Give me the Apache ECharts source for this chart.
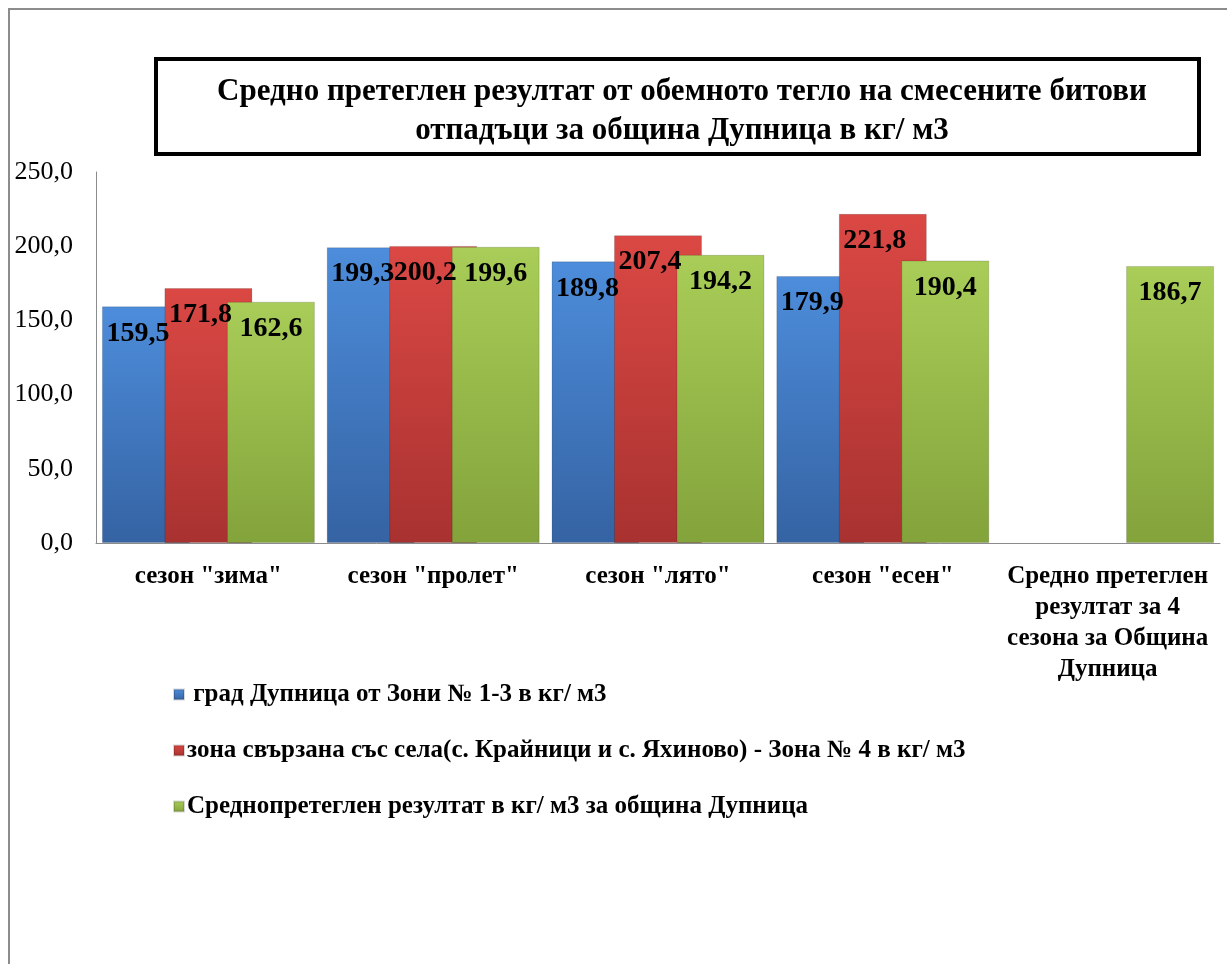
<!DOCTYPE html>
<html>
<head>
<meta charset="utf-8">
<script src="https://cdn.jsdelivr.net/npm/echarts@6/dist/echarts.min.js"></script>
<style>
  html, body { margin: 0; padding: 0; background: #fff; }
  #chart { width: 1227px; height: 964px; }
</style>
</head>
<body>
<div id="chart"></div>
<script>
// категории (сезони)
const categories = [
  'сезон "зима"',
  'сезон "пролет"',
  'сезон "лято"',
  'сезон "есен"',
  'Средно претеглен\nрезултат за 4\nсезона за Община\nДупница'
];
const seriesNames = [
  ' град Дупница от Зони № 1-3 в кг/ м3',
  'зона свързана със села(с. Крайници и с. Яхиново) - Зона № 4 в кг/ м3',
  'Среднопретеглен резултат в кг/ м3 за община Дупница'
];
// стойности
const cityValues = [159.5, 199.3, 189.8, 179.9, null];
const villageValues = [171.8, 200.2, 207.4, 221.8, null];
const averageValues = [162.6, 199.6, 194.2, 190.4, 186.7];
const yTicks = [0, 50, 100, 150, 200, 250];

const serif = '"Liberation Serif", "Times New Roman", serif';
const comma = v => v.toFixed(1).replace('.', ',');

// цветове на колоните (горе/долу)
const colorArr = [
  ['#4d8ddb', '#3563a3'],
  ['#db4844', '#a83230'],
  ['#a9cd58', '#83a33b']
];
const barColor = (i) => new echarts.graphic.LinearGradient(0, 0, 0, 1, [
  { offset: 0, color: colorArr[i][0] },
  { offset: 1, color: colorArr[i][1] }
]);

const makeSeries = (name, data, i) => ({
  name: name,
  type: 'bar',
  data: data,
  barWidth: 88,
  barGap: '-29%',
  itemStyle: {
    color: barColor(i),
    borderColor: 'rgba(0,0,0,0.15)',
    borderWidth: 1
  },
  label: {
    show: true,
    position: 'insideTop',
    distance: 13,
    offset: i < 2 ? [-8, 0] : [0, 0],
    color: '#000',
    fontFamily: serif,
    fontWeight: 'bold',
    fontSize: 28,
    formatter: p => comma(p.value)
  }
});

const chart = echarts.init(document.getElementById('chart'));
chart.setOption({
  backgroundColor: '#fff',
  animation: false,
  title: {
    text: 'Средно претеглен резултат от обемното тегло на смесените битови\nотпадъци за община Дупница в кг/ м3',
    left: 677,
    top: 67,
    textAlign: 'center',
    textStyle: {
      fontFamily: serif,
      fontWeight: 'bold',
      fontSize: 31,
      lineHeight: 39,
      color: '#000'
    }
  },
  graphic: [
    {
      type: 'rect',
      shape: { x: 9, y: 9, width: 1240, height: 1000 },
      style: { fill: 'none', stroke: '#8c8c8c', lineWidth: 2 },
      silent: true
    },
    {
      type: 'rect',
      shape: { x: 156, y: 59, width: 1043, height: 95 },
      style: { fill: 'none', stroke: '#000', lineWidth: 4 },
      silent: true
    }
  ],
  legend: {
    orient: 'vertical',
    left: 168,
    top: 677,
    itemGap: 31,
    itemWidth: 10,
    itemHeight: 10,
    icon: 'rect',
    data: seriesNames,
    textStyle: {
      fontFamily: serif,
      fontWeight: 'bold',
      fontSize: 25,
      color: '#000',
      padding: [0, 0, 0, -2]
    }
  },
  grid: {
    left: 96,
    right: 7,
    top: 172,
    bottom: 421,
    containLabel: false
  },
  xAxis: {
    type: 'category',
    data: categories,
    axisLine: { lineStyle: { color: '#8c8c8c', width: 1 } },
    axisTick: { show: false },
    axisLabel: {
      interval: 0,
      margin: 18,
      fontFamily: serif,
      fontWeight: 'bold',
      fontSize: 25,
      lineHeight: 31,
      color: '#000'
    }
  },
  yAxis: {
    type: 'value',
    min: yTicks[0],
    max: yTicks[yTicks.length - 1],
    interval: yTicks[1] - yTicks[0],
    splitLine: { show: false },
    axisLine: { show: true, lineStyle: { color: '#8c8c8c', width: 1 } },
    axisTick: { show: false },
    axisLabel: {
      margin: 23,
      fontFamily: serif,
      fontSize: 26,
      color: '#000',
      formatter: v => comma(v)
    }
  },
  series: [
    makeSeries(seriesNames[0], cityValues, 0),
    makeSeries(seriesNames[1], villageValues, 1),
    makeSeries(seriesNames[2], averageValues, 2)
  ]
});
</script>
</body>
</html>
